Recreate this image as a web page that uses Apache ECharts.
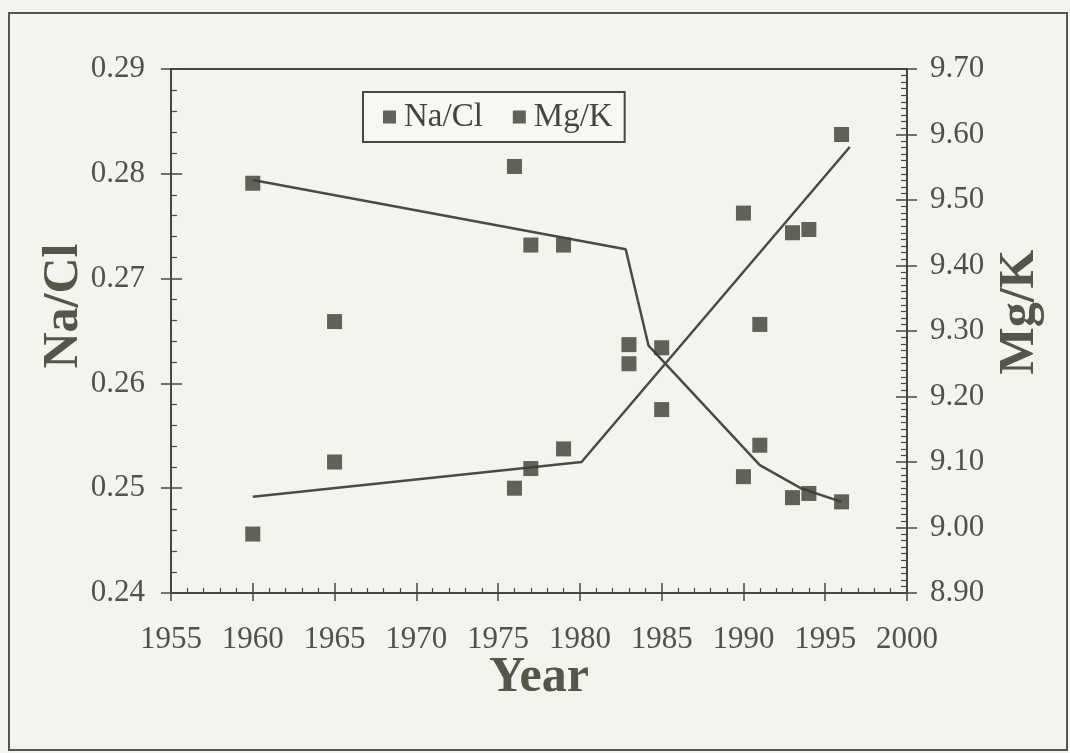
<!DOCTYPE html>
<html>
<head>
<meta charset="utf-8">
<script src="https://cdn.jsdelivr.net/npm/echarts@6/dist/echarts.min.js"></script>
<style>
  html, body { margin: 0; padding: 0; background: #f4f4ef; }
  #chart { width: 1070px; height: 753px; }
</style>
</head>
<body>
<div id="chart"></div>
<script>
// Sampling years and measured ratios
const years = [1960, 1965, 1976, 1977, 1979, 1983, 1985, 1990, 1991, 1993, 1994, 1996];
const naCl  = [0.2791, 0.2659, 0.2807, 0.2732, 0.2732, 0.2637, 0.2634, 0.2511, 0.2541, 0.2491, 0.2495, 0.2487];
const mgK   = [8.99, 9.10, 9.06, 9.09, 9.12, 9.25, 9.18, 9.48, 9.31, 9.45, 9.455, 9.60];

// Trend lines drawn through the data (break points)
const naClTrendYears = [1960, 1982.8, 1984.2, 1991, 1993.5, 1996];
const naClTrend      = [0.2794, 0.2728, 0.2636, 0.2522, 0.2500, 0.2487];
const mgKTrendYears  = [1960, 1980.1, 1996.5];
const mgKTrend       = [9.047, 9.100, 9.581];

// Axis ranges
const xRange = { min: 1955, max: 2000, interval: 5 };
const leftRange = { min: 0.24, max: 0.29, interval: 0.01 };
const rightRange = { min: 8.9, max: 9.7, interval: 0.1 };

const SERIF = "'Liberation Serif', 'Times New Roman', serif";
const INK = '#474742';
const MARK = '#3c3c33';

const pairs = (xs, ys) => xs.map((x, i) => [x, ys[i]]);

const chart = echarts.init(document.getElementById('chart'), null, { renderer: 'canvas' });

const labelStyle = { fontFamily: SERIF, fontSize: 31, color: '#505050' };

const option = {
  backgroundColor: '#f4f4ef',
  animation: false,
  grid: {
    left: 171, right: 163, top: 69, bottom: 160,
    show: true, borderColor: INK, borderWidth: 2, backgroundColor: 'transparent'
  },
  legend: {
    data: ['Na/Cl', 'Mg/K'],
    left: 363, top: 92,
    padding: [7, 12, 7, 20],
    itemGap: 30,
    itemWidth: 13, itemHeight: 13,
    icon: 'rect',
    borderColor: INK, borderWidth: 2,
    backgroundColor: '#f7f7f3',
    textStyle: { fontFamily: SERIF, fontSize: 33, color: '#444', lineHeight: 36, padding: [0, 0, 0, 3] }
  },
  xAxis: [
    {
      type: 'value', position: 'bottom', ...xRange,
      name: 'Year', nameLocation: 'middle', nameGap: 60, nameMoveOverlap: false,
      nameTextStyle: { fontFamily: SERIF, fontSize: 50, fontWeight: 'bold', color: '#55554a' },
      axisLine: { onZero: false, lineStyle: { color: INK, width: 2 } },
      axisTick: { inside: true, length: 10, lineStyle: { color: INK, width: 1.5 } },
      minorTick: { show: true, splitNumber: 5, length: 5, lineStyle: { color: INK, width: 1.2 } },
      axisLabel: { ...labelStyle, margin: 31, formatter: v => String(v) },
      splitLine: { show: false }
    },
    {
      type: 'value', position: 'bottom', ...xRange,
      axisLine: { show: false, onZero: false },
      axisTick: { inside: false, length: 8, lineStyle: { color: INK, width: 1.5 } },
      axisLabel: { show: false },
      splitLine: { show: false }
    }
  ],
  yAxis: [
    {
      type: 'value', position: 'left', ...leftRange,
      axisLine: { show: true, onZero: false, lineStyle: { color: INK, width: 2 } },
      axisTick: { show: true, inside: true, length: 11, lineStyle: { color: INK, width: 1.5 } },
      minorTick: { show: true, splitNumber: 5, length: 6, lineStyle: { color: INK, width: 1.2 } },
      axisLabel: { ...labelStyle, margin: 26, formatter: v => v.toFixed(2) },
      splitLine: { show: false }
    },
    {
      type: 'value', position: 'right', ...rightRange,
      axisLine: { show: true, onZero: false, lineStyle: { color: INK, width: 2 } },
      axisTick: { show: true, inside: true, length: 11, lineStyle: { color: INK, width: 1.5 } },
      minorTick: { show: true, splitNumber: 10, length: 6, lineStyle: { color: INK, width: 1.2 } },
      axisLabel: { ...labelStyle, margin: 23, formatter: v => v.toFixed(2) },
      splitLine: { show: false }
    },
    {
      type: 'value', position: 'left', ...leftRange,
      axisLine: { show: false, onZero: false },
      axisTick: { show: true, inside: false, length: 10, lineStyle: { color: INK, width: 1.5 } },
      axisLabel: { show: false },
      splitLine: { show: false }
    },
    {
      type: 'value', position: 'right', ...rightRange,
      axisLine: { show: false, onZero: false },
      axisTick: { show: true, inside: false, length: 10, lineStyle: { color: INK, width: 1.5 } },
      axisLabel: { show: false },
      splitLine: { show: false }
    }
  ],
  series: [
    {
      name: 'Na/Cl', type: 'scatter', xAxisIndex: 0, yAxisIndex: 0,
      symbol: 'rect', symbolSize: 15,
      itemStyle: { color: MARK },
      data: pairs(years, naCl), z: 5
    },
    {
      name: 'Mg/K', type: 'scatter', xAxisIndex: 0, yAxisIndex: 1,
      symbol: 'rect', symbolSize: 15,
      itemStyle: { color: MARK },
      data: pairs(years, mgK), z: 5
    },
    {
      name: 'Na/Cl trend', type: 'line', xAxisIndex: 0, yAxisIndex: 0,
      showSymbol: false, symbol: 'none',
      lineStyle: { color: '#4a4a46', width: 2.5 },
      data: pairs(naClTrendYears, naClTrend), z: 4
    },
    {
      name: 'Mg/K trend', type: 'line', xAxisIndex: 0, yAxisIndex: 1,
      showSymbol: false, symbol: 'none',
      lineStyle: { color: '#4a4a46', width: 2.5 },
      data: pairs(mgKTrendYears, mgKTrend), z: 4
    }
  ],
  graphic: [
    {
      type: 'rect', left: 8, top: 12, z: -1,
      shape: { width: 1058, height: 737 },
      style: { fill: 'transparent', stroke: '#555', lineWidth: 2 }
    },
    {
      type: 'text', x: 64, y: 306, rotation: Math.PI / 2,
      style: {
        text: 'Na/Cl', fontFamily: SERIF, fontSize: 50, fontWeight: 'bold',
        fill: '#55554a', align: 'center', verticalAlign: 'middle'
      }
    },
    {
      type: 'text', x: 1020, y: 312, rotation: Math.PI / 2,
      style: {
        text: 'Mg/K', fontFamily: SERIF, fontSize: 50, fontWeight: 'bold',
        fill: '#55554a', align: 'center', verticalAlign: 'middle'
      }
    }
  ]
};

chart.setOption(option);
</script>
</body>
</html>
